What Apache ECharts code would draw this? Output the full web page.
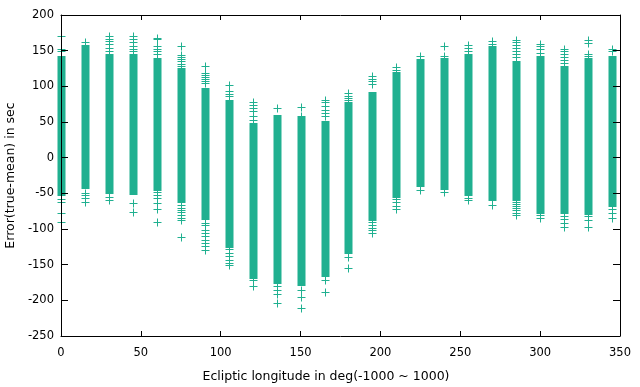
<!DOCTYPE html>
<html>
<head>
<meta charset="utf-8">
<script src="https://cdn.jsdelivr.net/npm/echarts@6/dist/echarts.min.js"></script>
<style>html,body{margin:0;padding:0;background:#fff}#c{width:640px;height:387px}</style>
</head>
<body>
<div id="c"></div>
<script>
// Ecliptic longitude of each column (deg)
const longitudes = [0,15,30,45,60,75,90,105,120,135,150,165,180,195,210,225,240,255,270,285,300,315,330,345];
// Dense core of each column: upper and lower end (sec)
const coreHigh = [143,158,146,145,140,126,98,81,49,60,56,52,78,92,120,139,140,145,156,135,143,129,140,143];
const coreLow  = [-53,-42,-50,-51,-45,-62,-86,-125,-168,-175,-178,-166,-133,-87,-55,-40,-44,-53,-58,-59,-77,-78,-79,-68];
// Isolated points outside the dense core, per column (sec)
const outlierErrors = [
  [170,152,150,-58,-62,-77,-90],
  [162,-49,-53,-57,-62],
  [170,166,163,159,154,150,-55,-59],
  [171,167,162,157,153,150,-63,-76],
  [168,167,156,152,149,145,-48,-53,-57,-63,-72,-90],
  [156,144,141,138,135,131,128,-66,-70,-73,-76,-80,-84,-87,-111],
  [129,118,116,113,110,107,104,-91,-95,-101,-105,-110,-115,-120,-124,-129],
  [102,93,89,86,-128,-133,-138,-143,-147,-151],
  [78,74,70,65,59,53,-171,-180],
  [70,-180,-185,-191,-204],
  [71,59,57,-185,-195,-211],
  [81,78,73,67,63,58,-171,-188],
  [91,87,84,81,-139,-155],
  [114,110,107,103,-90,-94,-98,-102,-106],
  [127,123,-58,-62,-68,-72],
  [142,-45],
  [156,143,-48],
  [158,154,150,-56,-60],
  [164,159,-60,-66],
  [165,162,158,154,150,145,141,-62,-65,-68,-71,-74,-77,-80],
  [160,156,152,147,-80,-84],
  [152,149,145,141,137,133,-82,-86,-91,-97],
  [165,161,145,142,-82,-87,-97],
  [153,150,-72,-77,-85]
];
const xTicks = {min:0, max:350, interval:50};
const yTicks = {min:-250, max:200, interval:50};

const COLOR = '#20b090';
const FONT = 'DejaVu Sans';

const coreData = longitudes.map((x,i)=>[x, coreLow[i], coreHigh[i]]);
const pointData = [];
longitudes.forEach((x,i)=>outlierErrors[i].forEach(v=>pointData.push([x,v])));

const chart = echarts.init(document.getElementById('c'), null, {renderer:'canvas'});
const axisCommon = {
  type:'value', z:10,
  axisLine:{show:true, onZero:false, lineStyle:{color:'#000', width:1}},
  axisTick:{show:true, inside:true, lineStyle:{color:'#000', width:1}},
  splitLine:{show:false},
  axisLabel:{color:'#000', fontFamily:FONT, fontSize:11.5}
};
chart.setOption({
  animation:false,
  backgroundColor:'#fff',
  grid:{left:61, right:20, top:15, bottom:51, containLabel:false, outerBoundsMode:'none'},
  xAxis:[
    Object.assign({}, axisCommon, xTicks, {position:'bottom',
      axisTick:Object.assign({}, axisCommon.axisTick, {length:5}),
      axisLabel:Object.assign({}, axisCommon.axisLabel, {margin:11}),
      name:'Ecliptic longitude in deg(-1000 ~ 1000)', nameLocation:'middle', nameGap:34,
      nameTextStyle:{color:'#000', fontFamily:FONT, fontSize:12.5, padding:[0,29,0,0]}}),
    Object.assign({}, axisCommon, xTicks, {position:'top',
      axisTick:Object.assign({}, axisCommon.axisTick, {length:5}),
      axisLabel:{show:false}})
  ],
  yAxis:[
    Object.assign({}, axisCommon, yTicks, {position:'left',
      axisTick:Object.assign({}, axisCommon.axisTick, {length:7}),
      axisLabel:Object.assign({}, axisCommon.axisLabel, {margin:7}),
      name:'Error(true-mean) in sec', nameLocation:'middle', nameGap:41, nameRotate:90,
      nameTextStyle:{color:'#000', fontFamily:FONT, fontSize:12.5}}),
    Object.assign({}, axisCommon, yTicks, {position:'right',
      axisTick:Object.assign({}, axisCommon.axisTick, {length:7}),
      axisLabel:{show:false}})
  ],
  series:[
    {
      type:'custom', xAxisIndex:0, yAxisIndex:0, data:coreData, clip:false,
      encode:{x:0, y:[1,2]},
      renderItem:function(params, api){
        const lo = api.coord([api.value(0), api.value(1)]);
        const hi = api.coord([api.value(0), api.value(2)]);
        const cx = Math.round(lo[0]);
        const y0 = Math.round(hi[1]);
        const y1 = Math.round(lo[1]);
        return {type:'rect', shape:{x:cx-3.5, y:y0, width:8, height:y1-y0+1}, style:{fill:COLOR}};
      }
    },
    {
      type:'custom', xAxisIndex:0, yAxisIndex:0, data:pointData, clip:false,
      encode:{x:0, y:1},
      renderItem:function(params, api){
        const p = api.coord([api.value(0), api.value(1)]);
        const cx = Math.round(p[0]) + 0.5;
        const cy = Math.round(p[1]) + 0.5;
        return {type:'group', children:[
          {type:'line', shape:{x1:cx-4, y1:cy, x2:cx+4, y2:cy}, style:{stroke:COLOR, lineWidth:1}},
          {type:'line', shape:{x1:cx, y1:cy-4, x2:cx, y2:cy+4}, style:{stroke:COLOR, lineWidth:1}}
        ]};
      }
    }
  ]
});
</script>
</body>
</html>
